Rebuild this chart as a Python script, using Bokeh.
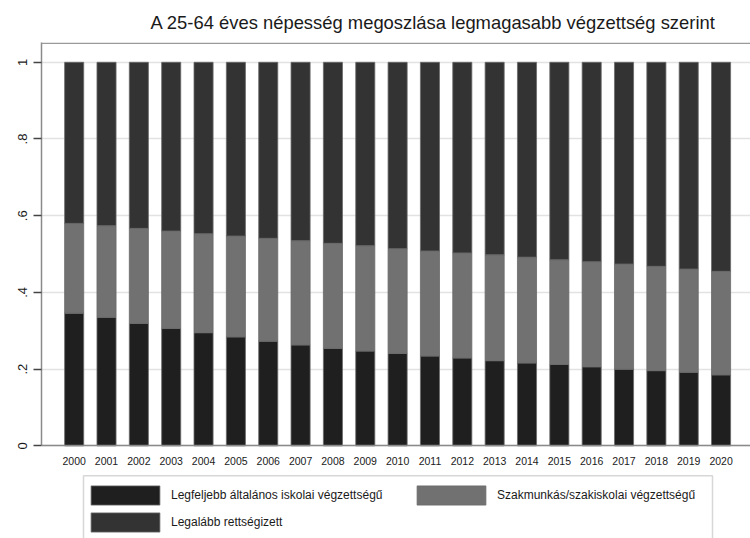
from bokeh.plotting import figure
from bokeh.models import (ColumnDataSource, Range1d, FixedTicker, Legend, LegendItem, Span, BoxAnnotation)
from bokeh.embed import file_html
from bokeh.resources import INLINE

# ---- data ----
years = [2000, 2001, 2002, 2003, 2004, 2005, 2006, 2007, 2008, 2009, 2010,
         2011, 2012, 2013, 2014, 2015, 2016, 2017, 2018, 2019, 2020]
year_labels = [str(y) for y in years]
# share with at most primary education
low_edu = [0.346, 0.335, 0.319, 0.306, 0.295, 0.284, 0.273, 0.263, 0.254, 0.247, 0.241,
           0.234, 0.229, 0.222, 0.216, 0.212, 0.206, 0.200, 0.196, 0.192, 0.185]
# cumulative top of vocational segment
voc_top = [0.580, 0.574, 0.567, 0.560, 0.553, 0.547, 0.541, 0.535, 0.528, 0.522, 0.514,
           0.508, 0.503, 0.498, 0.492, 0.485, 0.480, 0.474, 0.468, 0.461, 0.455]
vocational = [round(t - l, 3) for t, l in zip(voc_top, low_edu)]
upper_edu = [round(1 - t, 3) for t in voc_top]

series_names = ["Legfeljebb általános iskolai végzettségű",
                "Szakmunkás/szakiskolai végzettségű",
                "Legalább rettségizett"]
series_colors = ["#1f1f1f", "#717171", "#333333"]
title_text = "A 25-64 éves népesség megoszlása legmagasabb végzettség szerint"
y_ticks = [0, 0.2, 0.4, 0.6, 0.8, 1]
y_tick_labels = ["0", ".2", ".4", ".6", ".8", "1"]

source = ColumnDataSource(dict(year=years, low=low_edu, voc=vocational, high=upper_edu))

FONT = "Liberation Sans"
W, H = 750, 538
LEFT, TOP = 41, 40
X0, X1 = 1998.99, 2020.91
Y0, Y1 = -0.2416, 1.0516

p = figure(width=W, height=H, output_backend="svg", toolbar_location=None,
           x_range=Range1d(X0, X1), y_range=Range1d(Y0, Y1),
           min_border_left=LEFT, min_border_right=0, min_border_top=TOP, min_border_bottom=0)

# pixel -> data helpers (for the legend frame only)
def px_to_x(px):
    return X0 + (px - LEFT) * (X1 - X0) / (W - LEFT)

def py_to_y(py):
    return Y1 - (py - TOP) * (Y1 - Y0) / (H - TOP)

p.title.text = title_text
p.title.text_font = FONT
p.title.text_font_size = "18.4px"
p.title.text_font_style = "normal"
p.title.text_color = "#1a1a1a"
p.title.align = "left"
p.title.offset = 109
p.title.standoff = 19

renderers = p.vbar_stack(["low", "voc", "high"], x="year", width=0.59, source=source,
                         fill_color=series_colors, line_color="#6a6a6a", line_width=0.8)

legend = Legend(items=[LegendItem(label=n, renderers=[r]) for n, r in zip(series_names, renderers)],
                orientation="horizontal", ncols=2, location=(41, 4),
                glyph_width=86, glyph_height=24, label_standoff=3, label_width=234,
                spacing=3, padding=0, margin=0,
                label_text_font=FONT, label_text_font_size="12px", label_text_color="#1a1a1a",
                border_line_color=None, background_fill_alpha=0)
p.add_layout(legend)

# legend frame
p.add_layout(BoxAnnotation(left=px_to_x(83), right=px_to_x(712), top=py_to_y(475), bottom=Y0 - 0.1,
                           fill_alpha=0, line_color="#7a7a7a", line_width=1.5))

# axes
p.outline_line_color = None
p.add_layout(Span(location=Y1 - 0.002, dimension="width", line_color="#9a9a9a", line_width=1.5))

p.xaxis.fixed_location = 0
p.xaxis.ticker = FixedTicker(ticks=years)
p.xaxis.major_label_overrides = {y: l for y, l in zip(years, year_labels)}
p.xaxis.major_tick_line_color = None
p.xaxis.major_tick_out = 0
p.xaxis.minor_tick_line_color = None
p.xaxis.axis_line_color = "#8a8a8a"
p.xaxis.axis_line_width = 1.5
p.xaxis.major_label_standoff = 11
p.xaxis.major_label_text_font = FONT
p.xaxis.major_label_text_font_size = "10.5px"
p.xaxis.major_label_text_color = "#1a1a1a"

p.yaxis.bounds = (0, Y1)
p.yaxis.ticker = FixedTicker(ticks=y_ticks)
p.yaxis.major_label_overrides = {t: l for t, l in zip(y_ticks, y_tick_labels)}
p.yaxis.major_label_orientation = "vertical"
p.yaxis.minor_tick_line_color = None
p.yaxis.major_tick_out = 8
p.yaxis.major_tick_in = 0
p.yaxis.major_tick_line_color = "#444444"
p.yaxis.major_tick_line_width = 1.5
p.yaxis.axis_line_color = "#8a8a8a"
p.yaxis.axis_line_width = 1.5
p.yaxis.major_label_standoff = 6
p.yaxis.major_label_text_font = FONT
p.yaxis.major_label_text_font_size = "13px"
p.yaxis.major_label_text_color = "#1a1a1a"

p.xgrid.grid_line_color = None
p.ygrid.ticker = FixedTicker(ticks=y_ticks)
p.ygrid.grid_line_color = "#e2e2e2"
p.ygrid.grid_line_width = 1.5

p.background_fill_color = "white"
p.border_fill_color = "white"

open("out.html", "w").write(file_html(p, INLINE))
